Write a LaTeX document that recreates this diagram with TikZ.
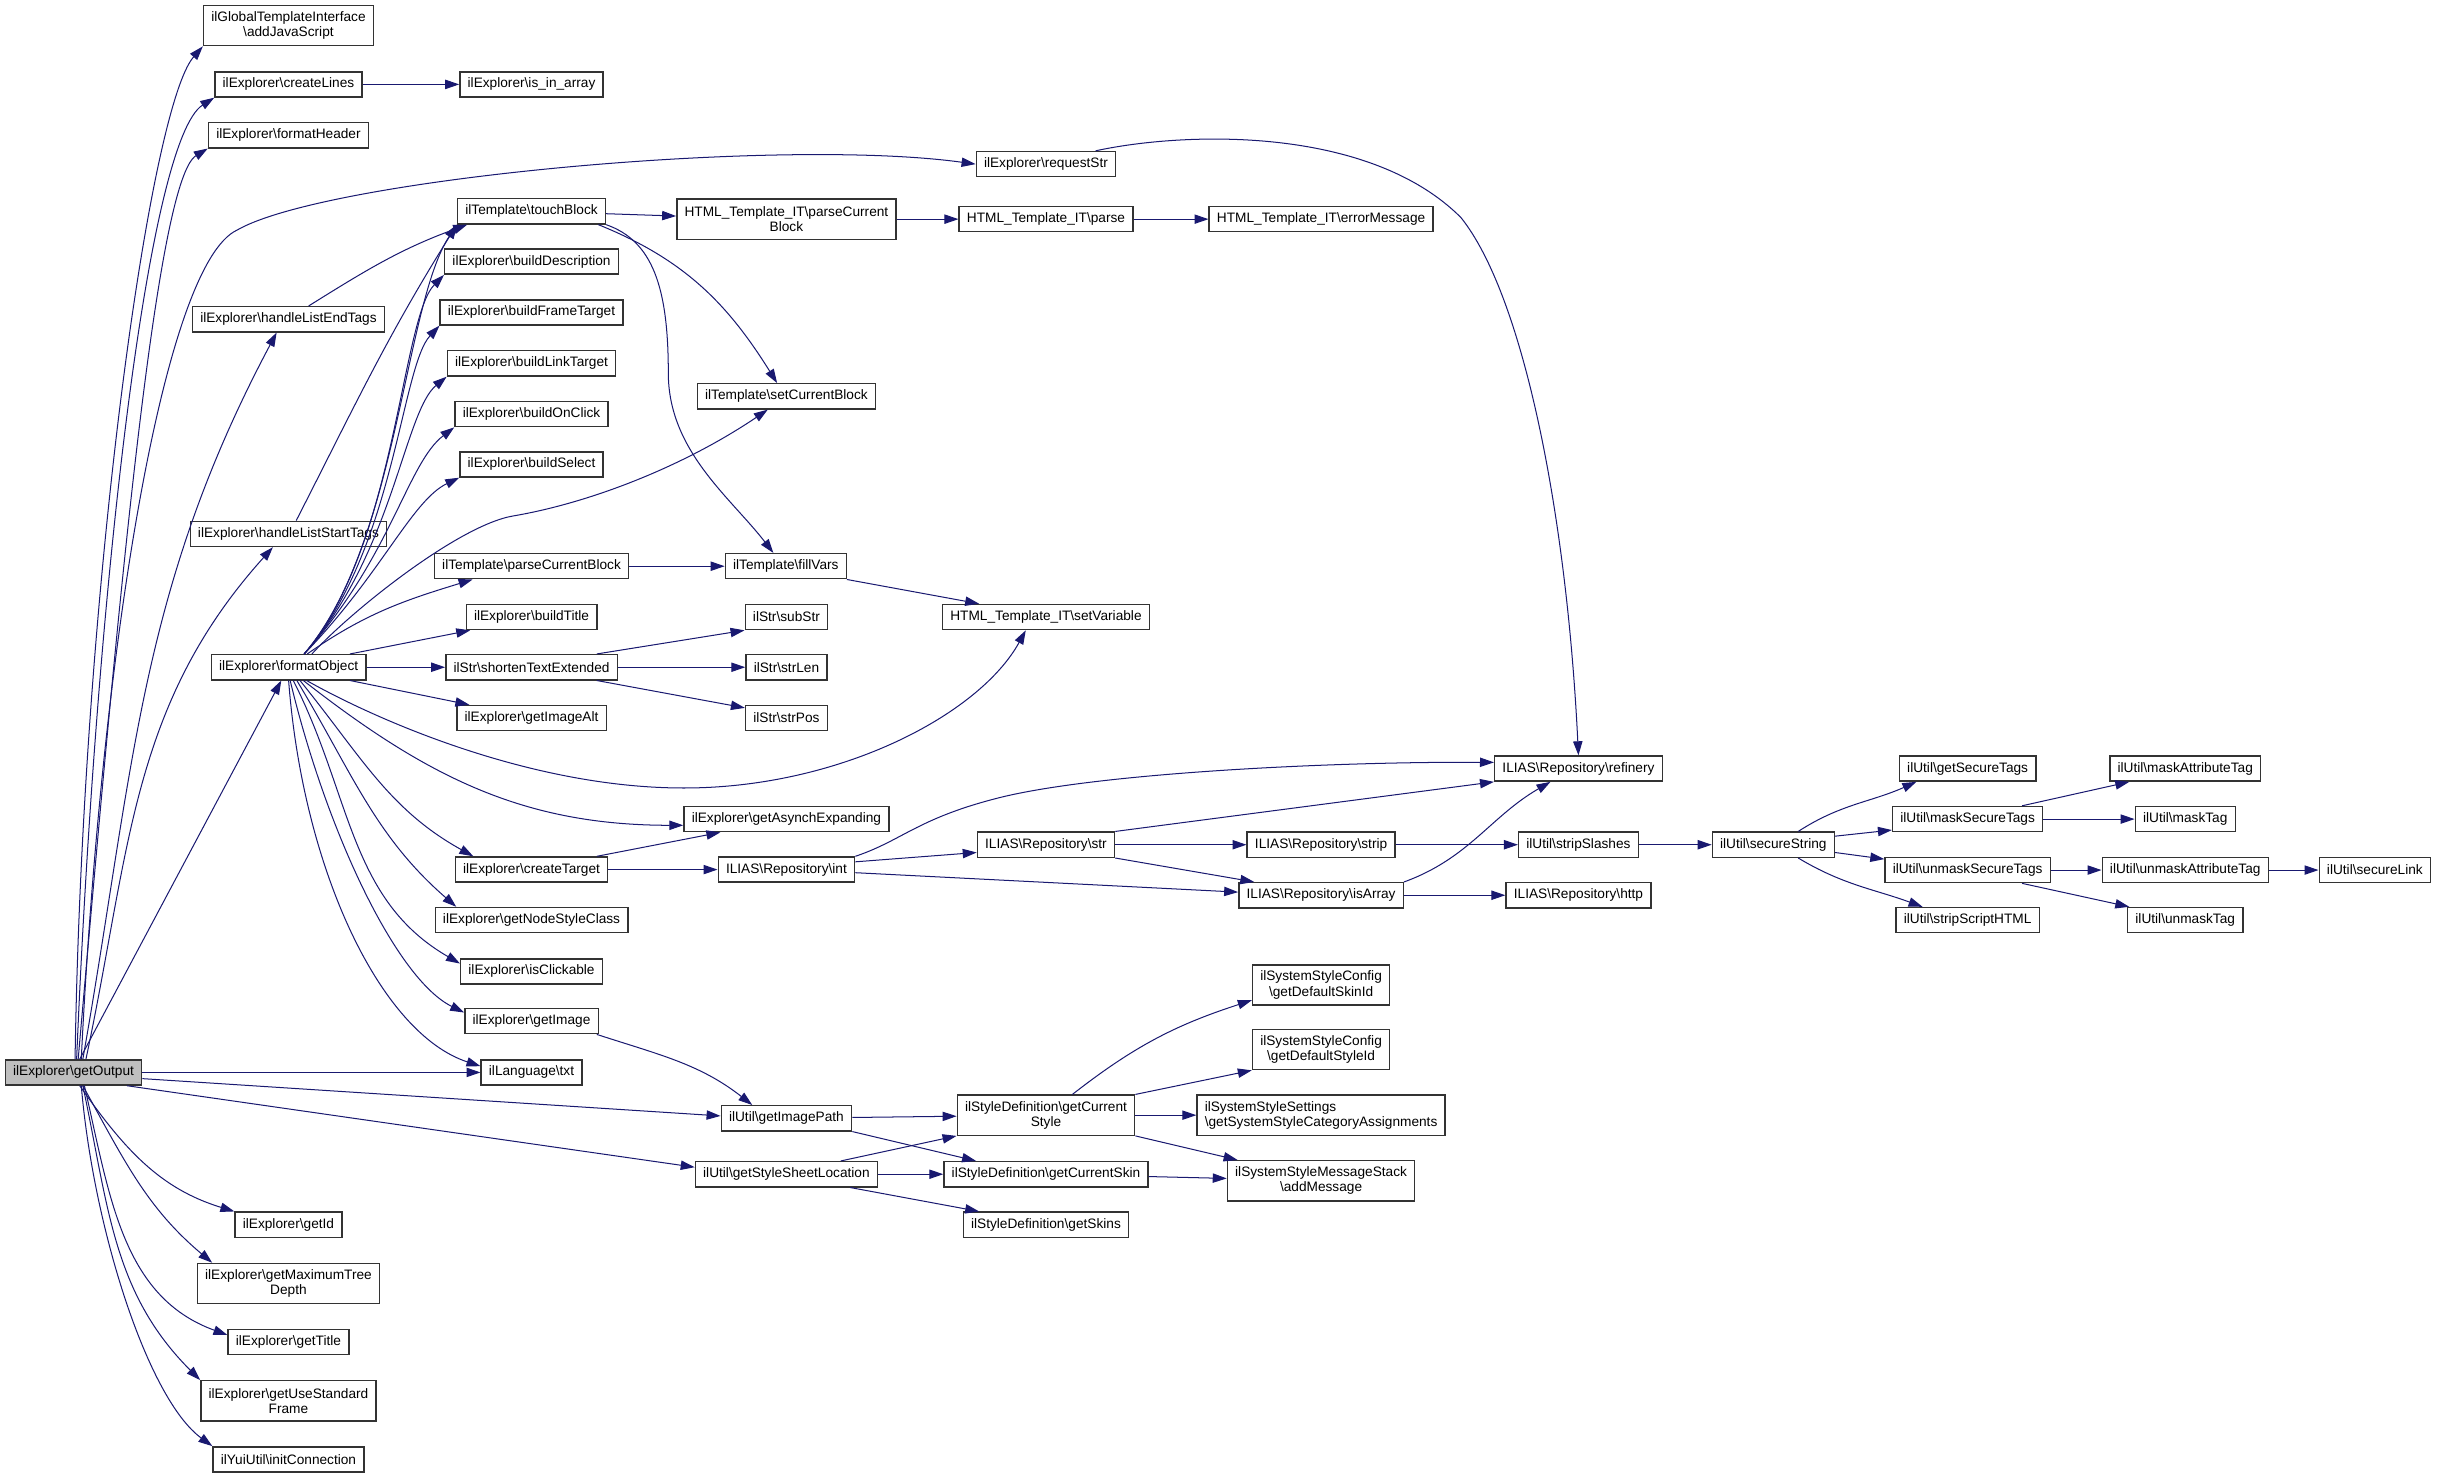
\documentclass[tikz,border=0pt]{standalone}
\usepackage{fontspec}
\setmainfont{Liberation Sans}
\usepackage{tikz}
\usetikzlibrary{arrows.meta, positioning}
\definecolor{colorCall}{HTML}{191970}
\colorlet{colorBorder}{black!80}
\colorlet{colorRoot}{black!25}
\newcommand{\bsl}{\textbackslash}
\tikzset{
  fn/.style={draw=colorBorder, line width=0.9pt, fill=white, rectangle, inner xsep=5pt, inner ysep=3.5pt, minimum height=16.2pt, font=\fontsize{8.8}{9.8}\selectfont, align=center},
  fntwo/.style={fn, minimum height=25.8pt},
  root/.style={fn, fill=colorRoot},
  call/.style={->, colorCall, line width=0.65pt}
}
\begin{document}
\begin{tikzpicture}[>={Triangle[length=9pt, width=6pt]}, x=1pt, y=1pt]
\useasboundingbox (0,0) rectangle (1568,-951);
\node[root] (getOutput) at (47.3,-690) {ilExplorer\bsl getOutput};
\node[fntwo] (addJS) at (185.6,-16.5) {ilGlobalTemplateInterface\\\bsl addJavaScript};
\node[fn] (createLines) at (185.6,-54.3) {ilExplorer\bsl createLines};
\node[fn, node distance=156.4pt, right of=createLines] (isInArray) {ilExplorer\bsl is\_in\_array};
\node[fn] (formatHeader) at (185.6,-87) {ilExplorer\bsl formatHeader};
\node[fn] (requestStr) at (673,-105.6) {ilExplorer\bsl requestStr};
\node[fn] (touchBlock) at (342,-136) {ilTemplate\bsl touchBlock};
\node[fntwo] (htmlParseCB) at (506,-141) {HTML\_Template\_IT\bsl parseCurrent\\Block};
\node[fn, node distance=167pt, right of=htmlParseCB] (htmlParse) {HTML\_Template\_IT\bsl parse};
\node[fn, node distance=177pt, right of=htmlParse] (errorMessage) {HTML\_Template\_IT\bsl errorMessage};
\node[fn] (buildDescription) at (342,-168.3) {ilExplorer\bsl buildDescription};
\node[fn] (buildFrameTarget) at (342,-201) {ilExplorer\bsl buildFrameTarget};
\node[fn] (hListEnd) at (185.6,-205.4) {ilExplorer\bsl handleListEndTags};
\node[fn] (buildLinkTarget) at (342,-233.8) {ilExplorer\bsl buildLinkTarget};
\node[fn] (setCurrentBlock) at (506,-255) {ilTemplate\bsl setCurrentBlock};
\node[fn] (buildOnClick) at (342,-266.4) {ilExplorer\bsl buildOnClick};
\node[fn] (buildSelect) at (342,-298.8) {ilExplorer\bsl buildSelect};
\node[fn] (hListStart) at (185.6,-343.5) {ilExplorer\bsl handleListStartTags};
\node[fn] (tplParseCB) at (342,-364.3) {ilTemplate\bsl parseCurrentBlock};
\node[fn, node distance=163.6pt, right of=tplParseCB] (fillVars) {ilTemplate\bsl fillVars};
\node[fn] (buildTitle) at (342,-397) {ilExplorer\bsl buildTitle};
\node[fn] (subStr) at (506,-397) {ilStr\bsl subStr};
\node[fn] (setVariable) at (673,-397) {HTML\_Template\_IT\bsl setVariable};
\node[fn] (formatObject) at (185.7,-429.3) {ilExplorer\bsl formatObject};
\node[fn, node distance=156.3pt, right of=formatObject] (shortenText) {ilStr\bsl shortenTextExtended};
\node[fn, node distance=164pt, right of=shortenText] (strLen) {ilStr\bsl strLen};
\node[fn] (getImageAlt) at (342,-462) {ilExplorer\bsl getImageAlt};
\node[fn] (strPos) at (506,-462) {ilStr\bsl strPos};
\node[fn] (refinery) at (1015.6,-494.5) {ILIAS\bsl Repository\bsl refinery};
\node[fn] (getSecureTags) at (1266,-494.5) {ilUtil\bsl getSecureTags};
\node[fn, node distance=140pt, right of=getSecureTags] (maskAttrTag) {ilUtil\bsl maskAttributeTag};
\node[fn] (getAsynch) at (506,-527) {ilExplorer\bsl getAsynchExpanding};
\node[fn] (maskSecureTags) at (1266,-527) {ilUtil\bsl maskSecureTags};
\node[fn, node distance=140pt, right of=maskSecureTags] (maskTag) {ilUtil\bsl maskTag};
\node[fn] (str) at (673,-543.5) {ILIAS\bsl Repository\bsl str};
\node[fn, node distance=177pt, right of=str] (strip) {ILIAS\bsl Repository\bsl strip};
\node[fn, node distance=165.6pt, right of=strip] (stripSlashes) {ilUtil\bsl stripSlashes};
\node[fn, node distance=125.4pt, right of=stripSlashes] (secureString) {ilUtil\bsl secureString};
\node[fn] (createTarget) at (342,-559.5) {ilExplorer\bsl createTarget};
\node[fn, node distance=164pt, right of=createTarget] (int) {ILIAS\bsl Repository\bsl int};
\node[fn] (unmaskSecureTags) at (1266,-559.8) {ilUtil\bsl unmaskSecureTags};
\node[fn, node distance=140pt, right of=unmaskSecureTags] (unmaskAttrTag) {ilUtil\bsl unmaskAttributeTag};
\node[fn, node distance=122pt, right of=unmaskAttrTag] (secureLink) {ilUtil\bsl secureLink};
\node[fn] (isArray) at (850,-576) {ILIAS\bsl Repository\bsl isArray};
\node[fn, node distance=165.6pt, right of=isArray] (http) {ILIAS\bsl Repository\bsl http};
\node[fn] (getNodeStyle) at (342,-592) {ilExplorer\bsl getNodeStyleClass};
\node[fn] (stripScriptHTML) at (1266,-592) {ilUtil\bsl stripScriptHTML};
\node[fn] (unmaskTag) at (1406,-592) {ilUtil\bsl unmaskTag};
\node[fn] (isClickable) at (342,-625) {ilExplorer\bsl isClickable};
\node[fntwo] (getDefaultSkinId) at (850,-633.7) {ilSystemStyleConfig\\\bsl getDefaultSkinId};
\node[fn] (getImage) at (342,-657) {ilExplorer\bsl getImage};
\node[fntwo] (getDefaultStyleId) at (850,-675.3) {ilSystemStyleConfig\\\bsl getDefaultStyleId};
\node[fn, node distance=294.7pt, right of=getOutput] (txt) {ilLanguage\bsl txt};
\node[fntwo] (getCurrentStyle) at (673,-717.5) {ilStyleDefinition\bsl getCurrent\\Style};
\node[fntwo, align=left, node distance=177pt, right of=getCurrentStyle] (sysStyleSettings) {ilSystemStyleSettings\\\bsl getSystemStyleCategoryAssignments};
\node[fn] (getImagePath) at (506,-719.5) {ilUtil\bsl getImagePath};
\node[fn] (getStyleSheetLocation) at (506,-755.5) {ilUtil\bsl getStyleSheetLocation};
\node[fn, node distance=167pt, right of=getStyleSheetLocation] (getCurrentSkin) {ilStyleDefinition\bsl getCurrentSkin};
\node[fntwo] (addMessage) at (850,-759.7) {ilSystemStyleMessageStack\\\bsl addMessage};
\node[fn] (getSkins) at (673,-788) {ilStyleDefinition\bsl getSkins};
\node[fn] (getId) at (185.6,-788) {ilExplorer\bsl getId};
\node[fntwo] (getMaxDepth) at (185.6,-825.8) {ilExplorer\bsl getMaximumTree\\Depth};
\node[fn] (getTitle) at (185.6,-863.5) {ilExplorer\bsl getTitle};
\node[fntwo] (getUseStd) at (185.6,-901.3) {ilExplorer\bsl getUseStandard\\Frame};
\node[fn] (initConn) at (185.6,-939) {ilYuiUtil\bsl initConnection};
\draw [call] ([xshift=1pt]getOutput.north) .. controls (53,-382) and (96,-69) .. (addJS.south west);
\draw [call] ([xshift=2pt]getOutput.north) .. controls (62,-380) and (95,-90) .. (createLines.south west);
\draw [call] ([xshift=3pt]getOutput.north) .. controls (75,-400) and (100,-116) .. (formatHeader.south west);
\draw [call] ([xshift=5pt]getOutput.north) .. controls (65,-420) and (105,-170) .. (152.6,-148) .. controls (210,-115) and (500,-88) .. (requestStr.west);
\draw [call] ([xshift=6pt]getOutput.north) to [out=80, in=242] ([xshift=-7.6pt]hListEnd.south);
\draw [call] ([xshift=8pt]getOutput.north) to [out=78, in=228] ([xshift=-10pt]hListStart.south);
\draw [call] ([xshift=4pt]getOutput.north) -- ([xshift=-4.7pt]formatObject.south);
\draw [call] (getOutput.east) -- (txt.west);
\draw [call] ([yshift=-4pt]getOutput.east) -- ([yshift=1.5pt]getImagePath.west);
\draw [call] ([xshift=-10pt]getOutput.south east) -- ([yshift=4.5pt]getStyleSheetLocation.west);
\draw [call] ([xshift=4pt]getOutput.south) to [out=-55, in=163] (getId.north west);
\draw [call] ([xshift=6pt]getOutput.south) to [out=-61, in=140] ([xshift=10pt]getMaxDepth.north west);
\draw [call] ([xshift=7pt]getOutput.south) to [out=-77, in=160] ([yshift=-4pt]getTitle.north west);
\draw [call] ([xshift=6pt]getOutput.south) to [out=-78, in=135] (getUseStd.north west);
\draw [call] ([xshift=5pt]getOutput.south) .. controls (60,-790) and (95,-900) .. (initConn.north west);
\draw [call] (createLines) -- (isInArray);
\draw [call] ([xshift=13pt]hListEnd.north) to [out=32, in=200] ([xshift=6.6pt]touchBlock.south west);
\draw [call] ([xshift=5pt]hListStart.north) to [out=63, in=238] (touchBlock.south west);
\draw [call] ([xshift=10pt]formatObject.north) .. controls (256,-350) and (260,-196) .. (touchBlock.south west);
\draw [call] ([xshift=10pt]formatObject.north) .. controls (255,-352) and (258,-205) .. (buildDescription.south west);
\draw [call] ([xshift=10pt]formatObject.north) .. controls (254,-354) and (258,-236) .. (buildFrameTarget.south west);
\draw [call] ([xshift=10pt]formatObject.north) .. controls (253,-356) and (260,-265) .. (buildLinkTarget.south west);
\draw [call] ([xshift=10pt]formatObject.north) .. controls (252,-358) and (262,-298) .. (buildOnClick.south west);
\draw [call] ([xshift=10pt]formatObject.north) .. controls (245,-370) and (265,-322) .. (buildSelect.south west);
\draw [call] ([xshift=15pt]formatObject.north) .. controls (226,-393) and (295,-338) .. (330,-332) .. controls (380,-323.5) and (440,-300) .. ([xshift=-12pt]setCurrentBlock.south);
\draw [call] ([xshift=12pt]formatObject.north) to [out=35, in=197] ([xshift=25pt]tplParseCB.south west);
\draw [call] ([xshift=39.5pt]formatObject.north) -- ([xshift=3pt]buildTitle.south west);
\draw [call] (formatObject) -- (shortenText);
\draw [call] ([xshift=39.5pt]formatObject.south) -- ([xshift=8.5pt]getImageAlt.north west);
\draw [call] ([xshift=11.6pt]formatObject.south) .. controls (240,-462) and (340,-507) .. (440,-507) .. controls (540,-507) and (630,-460) .. ([xshift=-13pt]setVariable.south);
\draw [call] ([xshift=9.5pt]formatObject.south) to [out=-38, in=180] ([yshift=-4pt]getAsynch.west);
\draw [call] ([xshift=7.3pt]formatObject.south) to [out=-51, in=151] ([xshift=12pt]createTarget.north west);
\draw [call] ([xshift=5.3pt]formatObject.south) to [out=-59, in=139] ([xshift=14pt]getNodeStyle.north west);
\draw [call] ([xshift=3pt]formatObject.south) to [out=-63, in=150] ([yshift=-3.5pt]isClickable.north west);
\draw [call] ([xshift=1pt]formatObject.south) .. controls (210,-535) and (255,-630) .. ([yshift=-3pt]getImage.north west);
\draw [call] (formatObject.south) .. controls (195,-560) and (245,-665) .. ([yshift=4pt]txt.west);
\draw [call] ([yshift=-1.5pt]touchBlock.east) -- ([yshift=2pt]htmlParseCB.west);
\draw [call] ([xshift=-5pt]touchBlock.south east) to [out=-22, in=122] ([xshift=-6pt]setCurrentBlock.north);
\draw [call] (touchBlock.south east) .. controls (420,-155) and (430,-185) .. (430,-240) .. controls (430,-290) and (470,-320) .. ([xshift=-8pt]fillVars.north);
\draw [call] (htmlParseCB) -- (htmlParse);
\draw [call] (htmlParse) -- (errorMessage);
\draw [call] (tplParseCB) -- (fillVars);
\draw [call] (fillVars.south east) -- ([xshift=-43pt]setVariable.north);
\draw [call] ([xshift=42pt]shortenText.north) -- (subStr.south west);
\draw [call] (shortenText) -- (strLen);
\draw [call] ([xshift=42pt]shortenText.south) -- ([yshift=-2pt]strPos.north west);
\draw [call] ([xshift=42pt]createTarget.north) -- ([xshift=-42.5pt]getAsynch.south);
\draw [call] (createTarget) -- (int);
\draw [call] (int.north east) .. controls (580,-541) and (590,-527) .. (640,-514) .. controls (700,-498) and (850,-490) .. ([yshift=4pt]refinery.west);
\draw [call] ([yshift=5pt]int.east) -- ([yshift=-5pt]str.west);
\draw [call] ([yshift=-2pt]int.east) -- ([yshift=2pt]isArray.west);
\draw [call] (str.north east) -- (refinery.south west);
\draw [call] (str) -- (strip);
\draw [call] (str.south east) -- ([xshift=-43pt]isArray.north);
\draw [call] (strip) -- (stripSlashes);
\draw [call] (isArray.north east) to [out=20, in=210] ([xshift=-18pt]refinery.south);
\draw [call] (isArray) -- (http);
\draw [call] (stripSlashes) -- (secureString);
\draw [call] ([xshift=16pt]secureString.north) to [out=33, in=204] ([xshift=-33pt]getSecureTags.south);
\draw [call] ([yshift=5.5pt]secureString.east) -- ([yshift=1.5pt]maskSecureTags.south west);
\draw [call] ([yshift=-5pt]secureString.east) -- ([yshift=-1.5pt]unmaskSecureTags.north west);
\draw [call] ([xshift=16pt]secureString.south) to [out=-31, in=160] ([xshift=-29pt]stripScriptHTML.north);
\draw [call] ([xshift=35pt]maskSecureTags.north) -- ([xshift=-36pt]maskAttrTag.south);
\draw [call] (maskSecureTags) -- (maskTag);
\draw [call] (unmaskSecureTags) -- (unmaskAttrTag);
\draw [call] ([xshift=35pt]unmaskSecureTags.south) -- ([xshift=-36pt]unmaskTag.north);
\draw [call] (unmaskAttrTag) -- (secureLink);
\draw [call] ([xshift=-13.4pt]requestStr.north east) .. controls (760,-85) and (880,-80) .. (940,-140) .. controls (980,-190) and (1008,-330) .. (refinery.north);
\draw [call] ([xshift=42pt]getImage.south) to [out=-18, in=142] ([xshift=-22pt]getImagePath.north);
\draw [call] (getImagePath) -- (getCurrentStyle);
\draw [call] (getImagePath.south east) -- ([xshift=-45pt]getCurrentSkin.north);
\draw [call] ([xshift=35pt]getStyleSheetLocation.north) -- (getCurrentStyle.south west);
\draw [call] (getStyleSheetLocation) -- (getCurrentSkin);
\draw [call] ([xshift=41pt]getStyleSheetLocation.south) -- ([xshift=-43pt]getSkins.north);
\draw [call] ([xshift=17pt]getCurrentStyle.north) to [out=38, in=198] ([yshift=3.5pt]getDefaultSkinId.south west);
\draw [call] (getCurrentStyle.north east) -- (getDefaultStyleId.south west);
\draw [call] (getCurrentStyle) -- (sysStyleSettings);
\draw [call] (getCurrentStyle.south east) -- ([xshift=7pt]addMessage.north west);
\draw [call] ([yshift=-1.5pt]getCurrentSkin.east) -- ([yshift=1.5pt]addMessage.west);
\end{tikzpicture}
\end{document}
